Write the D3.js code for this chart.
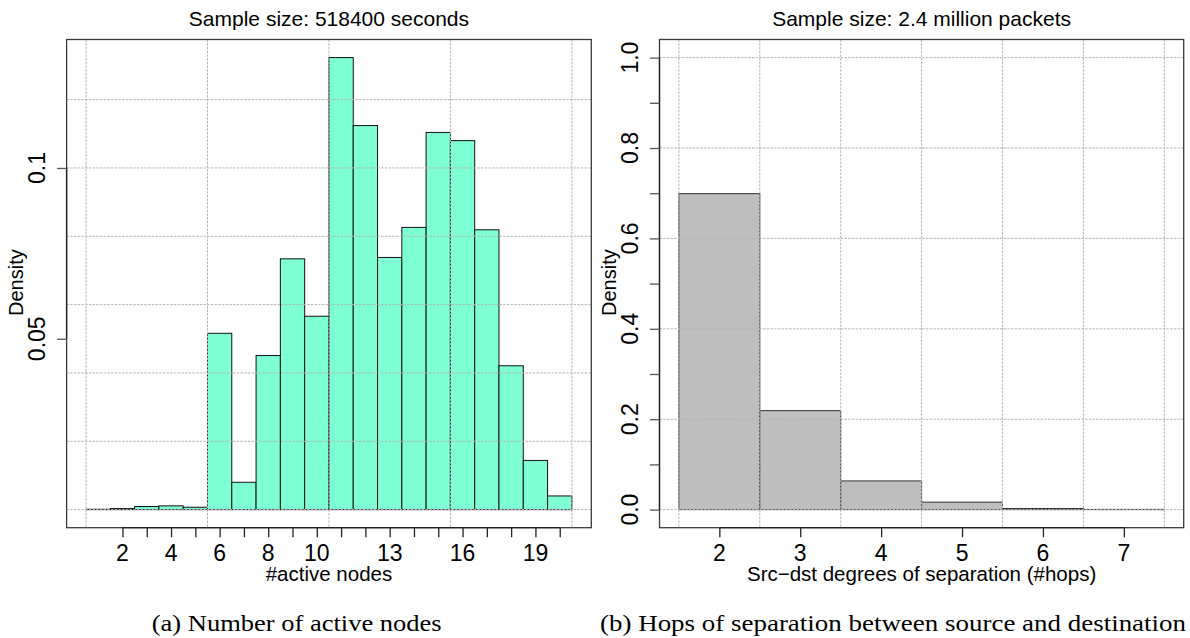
<!DOCTYPE html>
<html>
<head>
<meta charset="utf-8">
<script src="https://cdn.jsdelivr.net/npm/d3@7"></script>
<style>
  html, body { margin: 0; padding: 0; background: #fff; }
  svg { display: block; }
  text { font-family: "Liberation Sans", Arial, Helvetica, sans-serif; fill: #000; }
  .caption { font-family: "Liberation Serif", "Times New Roman", serif; }
</style>
</head>
<body>
<svg id="chart" width="1190" height="638"></svg>
<script>
// ---- (a) active nodes histogram (unit bins centred on each count) ----
const nodeCounts = [1, 2, 3, 4, 5, 6, 7, 8, 9, 10, 11, 12, 13, 14, 15, 16, 17, 18, 19, 20];
const nodeDensity = [0.0001, 0.0003, 0.0009, 0.0011, 0.0007, 0.0516, 0.0080, 0.0451, 0.0734, 0.0566,
                     0.1323, 0.1124, 0.0738, 0.0826, 0.1104, 0.1080, 0.0819, 0.0421, 0.0144, 0.0040];
const nodeTicks = [2, 3, 4, 5, 6, 7, 8, 9, 10, 11, 12, 13, 14, 15, 16, 17, 18, 19, 20];
const nodeTickLabels = ["2", "4", "6", "8", "10", "13", "16", "19"];
const nodeYTicks = [0.05, 0.1];
const nodeYTickLabels = ["0.05", "0.1"];
const nodeGridX = [0.5, 5.5, 10.5, 15.5, 20.5];
const nodeGridY = [0, 0.02, 0.04, 0.06, 0.08, 0.1, 0.12];

// ---- (b) hops of separation histogram ----
const hopCounts = [2, 3, 4, 5, 6, 7];
const hopDensity = [0.699, 0.219, 0.0635, 0.0165, 0.0025, 0.0005];
const hopTicks = [2, 3, 4, 5, 6, 7];
const hopTickLabels = ["2", "3", "4", "5", "6", "7"];
const hopYTicks = [0, 0.1, 0.2, 0.3, 0.4, 0.5, 0.6, 0.7, 0.8, 0.9, 1.0];
const hopYTickLabels = ["0.0", "0.2", "0.4", "0.6", "0.8", "1.0"];
const hopYLabelValues = [0, 0.2, 0.4, 0.6, 0.8, 1.0];
const hopGridX = [1.5, 2.5, 3.5, 4.5, 5.5, 6.5, 7.5];
const hopGridY = [0, 0.2, 0.4, 0.6, 0.8, 1.0];

const svg = d3.select("#chart");

// R-style 4% padding around a data range
function padded(lo, hi) {
  const r = hi - lo;
  return [lo - 0.04 * r, hi + 0.04 * r];
}

function drawPanel(cfg) {
  const g = svg.append("g");
  const x = d3.scaleLinear().domain(padded(cfg.xLo, cfg.xHi)).range([cfg.left, cfg.right]);
  const y = d3.scaleLinear().domain(padded(0, cfg.yHi)).range([cfg.bottom, cfg.top]);

  const clipId = "clip-" + cfg.id;
  svg.append("defs").append("clipPath").attr("id", clipId)
    .append("rect").attr("x", cfg.left).attr("y", cfg.top)
    .attr("width", cfg.right - cfg.left).attr("height", cfg.bottom - cfg.top);

  const plot = g.append("g").attr("clip-path", `url(#${clipId})`);

  // bars
  plot.selectAll("rect.bar").data(cfg.bins.map((b, i) => ({ b, v: cfg.values[i] })))
    .join("rect").attr("class", "bar")
    .attr("x", d => x(d.b - 0.5))
    .attr("width", d => x(d.b + 0.5) - x(d.b - 0.5))
    .attr("y", d => y(d.v))
    .attr("height", d => y(0) - y(d.v))
    .attr("fill", cfg.fill)
    .attr("stroke", cfg.barStroke)
    .attr("stroke-width", 1);

  // dotted grid drawn over the bars
  const gridStyle = s => s.attr("stroke", "#b4b4b4").attr("stroke-width", 1)
    .attr("stroke-dasharray", "2.5,1.2").attr("fill", "none");
  plot.selectAll("line.gx").data(cfg.gridX).join("line").attr("class", "gx")
    .attr("x1", d => x(d)).attr("x2", d => x(d))
    .attr("y1", cfg.top).attr("y2", cfg.bottom).call(gridStyle);
  plot.selectAll("line.gy").data(cfg.gridY).join("line").attr("class", "gy")
    .attr("x1", cfg.left).attr("x2", cfg.right)
    .attr("y1", d => y(d)).attr("y2", d => y(d)).call(gridStyle);

  // plot box
  g.append("rect")
    .attr("x", cfg.left).attr("y", cfg.top)
    .attr("width", cfg.right - cfg.left).attr("height", cfg.bottom - cfg.top)
    .attr("fill", "none").attr("stroke", "#3a3a3a").attr("stroke-width", 1.3);

  // bottom axis
  const xAxis = d3.axisBottom(x).tickValues(cfg.xTicks).tickSize(9.5).tickFormat("");
  const gx = g.append("g").attr("transform", `translate(0,${cfg.bottom})`).call(xAxis);
  gx.select(".domain").attr("d", `M${x(cfg.xTicks[0])},0H${x(cfg.xTicks[cfg.xTicks.length - 1])}`)
    .attr("stroke", "#222").attr("stroke-width", 1.3);
  gx.selectAll(".tick line").attr("stroke", "#222").attr("stroke-width", 1.3);
  g.selectAll("text.xtl").data(cfg.xTickLabels).join("text").attr("class", "xtl")
    .attr("x", d => x(+d)).attr("y", 561)
    .attr("text-anchor", "middle").attr("font-size", 23).text(d => d);

  // left axis, labels parallel to the axis
  const yAxis = d3.axisLeft(y).tickValues(cfg.yTicks).tickSize(9.5).tickFormat("");
  const gy = g.append("g").attr("transform", `translate(${cfg.left},0)`).call(yAxis);
  gy.select(".domain").attr("d", `M0,${y(cfg.yTicks[0])}V${y(cfg.yTicks[cfg.yTicks.length - 1])}`)
    .attr("stroke", "#222").attr("stroke-width", 1.3);
  gy.selectAll(".tick line").attr("stroke", "#555").attr("stroke-width", 1.3);
  const lx = cfg.left - 21.7;
  g.selectAll("text.ytl").data(cfg.yLabelValues).join("text").attr("class", "ytl")
    .attr("transform", (d) => `translate(${lx},${y(d)}) rotate(-90)`)
    .attr("text-anchor", "middle").attr("font-size", 23)
    .text((d, i) => cfg.yTickLabels[i]);

  // axis titles and heading
  const cx = (cfg.left + cfg.right) / 2;
  g.append("text").attr("x", cx).attr("y", 26)
    .attr("text-anchor", "middle").attr("font-size", 21).text(cfg.title);
  g.append("text").attr("x", cx).attr("y", 581)
    .attr("text-anchor", "middle").attr("font-size", 20.5).text(cfg.xTitle);
  g.append("text")
    .attr("transform", `translate(${cfg.left - 43.2},${(cfg.top + cfg.bottom) / 2 - 1}) rotate(-90)`)
    .attr("text-anchor", "middle").attr("font-size", 20).text("Density");

  // sub-figure caption
  svg.append("text").attr("class", "caption")
    .attr("x", cfg.capX).attr("y", 631).attr("text-anchor", "middle")
    .attr("font-size", 23)
    .attr("textLength", cfg.capW).attr("lengthAdjust", "spacingAndGlyphs")
    .text(cfg.caption);
}

drawPanel({
  id: "nodes", left: 66.6, right: 591.3, top: 39.5, bottom: 527.7,
  xLo: 0.5, xHi: 20.5, yHi: d3.max(nodeDensity),
  bins: nodeCounts, values: nodeDensity,
  fill: "#7fffd4", barStroke: "#111",
  gridX: nodeGridX, gridY: nodeGridY,
  xTicks: nodeTicks, xTickLabels: nodeTickLabels,
  yTicks: nodeYTicks, yTickLabels: nodeYTickLabels, yLabelValues: nodeYTicks,
  title: "Sample size: 518400 seconds",
  xTitle: "#active nodes",
  caption: "(a) Number of active nodes", capX: 296.7, capW: 290
});

drawPanel({
  id: "hops", left: 659.5, right: 1183.7, top: 39.5, bottom: 527.7,
  xLo: 1.5, xHi: 7.5, yHi: 1.0,
  bins: hopCounts, values: hopDensity,
  fill: "#bebebe", barStroke: "#333",
  gridX: hopGridX, gridY: hopGridY,
  xTicks: hopTicks, xTickLabels: hopTickLabels,
  yTicks: hopYTicks, yTickLabels: hopYTickLabels, yLabelValues: hopYLabelValues,
  title: "Sample size: 2.4 million packets",
  xTitle: "Src\u2212dst degrees of separation (#hops)",
  caption: "(b) Hops of separation between source and destination", capX: 893, capW: 586
});
</script>
</body>
</html>
